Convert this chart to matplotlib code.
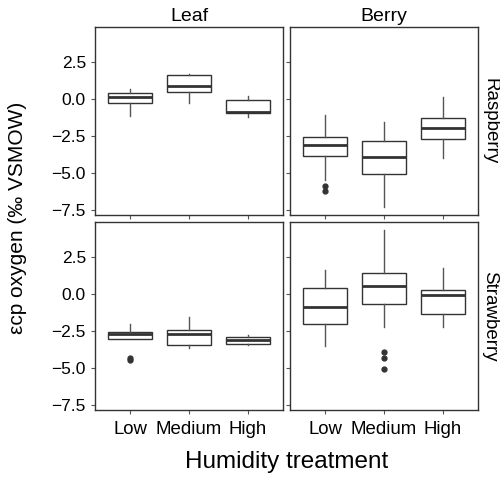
import matplotlib
matplotlib.use("Agg")
import matplotlib.pyplot as plt

plt.rcParams["font.family"] = ["Liberation Sans", "DejaVu Sans"]

treatments = ["Low", "Medium", "High"]
tissues = ["Leaf", "Berry"]
species = ["Raspberry", "Strawberry"]

# box statistics per (tissue, species), one value per treatment (Low, Medium, High)
med = {
    ("Leaf", "Raspberry"): [0.09, 0.86, -0.90],
    ("Berry", "Raspberry"): [-3.13, -3.96, -1.98],
    ("Leaf", "Strawberry"): [-2.72, -2.69, -3.15],
    ("Berry", "Strawberry"): [-0.86, 0.52, -0.09],
}
q1 = {
    ("Leaf", "Raspberry"): [-0.27, 0.45, -0.97],
    ("Berry", "Raspberry"): [-3.87, -5.05, -2.73],
    ("Leaf", "Strawberry"): [-3.06, -3.45, -3.38],
    ("Berry", "Strawberry"): [-2.03, -0.72, -1.38],
}
q3 = {
    ("Leaf", "Raspberry"): [0.41, 1.60, -0.07],
    ("Berry", "Raspberry"): [-2.59, -2.86, -1.28],
    ("Leaf", "Strawberry"): [-2.55, -2.46, -2.93],
    ("Berry", "Strawberry"): [0.36, 1.40, 0.29],
}
whislo = {
    ("Leaf", "Raspberry"): [-1.15, -0.29, -1.24],
    ("Berry", "Raspberry"): [-5.47, -7.32, -3.99],
    ("Leaf", "Strawberry"): [-3.06, -3.66, -3.47],
    ("Berry", "Strawberry"): [-3.50, -2.23, -2.21],
}
whishi = {
    ("Leaf", "Raspberry"): [0.65, 1.69, 0.18],
    ("Berry", "Raspberry"): [-1.08, -1.60, 0.11],
    ("Leaf", "Strawberry"): [-2.03, -1.58, -2.75],
    ("Berry", "Strawberry"): [1.58, 4.33, 1.76],
}
fliers = {
    ("Leaf", "Raspberry"): [[], [], []],
    ("Berry", "Raspberry"): [[-5.86, -6.22], [], []],
    ("Leaf", "Strawberry"): [[-4.32, -4.45], [], []],
    ("Berry", "Strawberry"): [[], [-3.95, -4.36, -5.06], []],
}

yticks = [-7.5, -5.0, -2.5, 0.0, 2.5]

W, H = 500, 483
fig = plt.figure(figsize=(W / 100, H / 100), dpi=100)

col_x = [95, 290]
row_y = [27, 222]
pw, ph = 188, 188
dark = "#333333"

for r, sp in enumerate(species):
    for c, ts in enumerate(tissues):
        ax = fig.add_axes([col_x[c] / W, 1 - (row_y[r] + ph) / H, pw / W, ph / H])
        key = (ts, sp)
        stats = [dict(med=med[key][i], q1=q1[key][i], q3=q3[key][i],
                      whislo=whislo[key][i], whishi=whishi[key][i],
                      fliers=fliers[key][i], label=treatments[i])
                 for i in range(3)]
        ax.bxp(stats, positions=[1, 2, 3], widths=0.75, patch_artist=True,
               showcaps=False,
               boxprops=dict(facecolor="white", edgecolor=dark, linewidth=1.0),
               medianprops=dict(color=dark, linewidth=2.0),
               whiskerprops=dict(color="#555555", linewidth=1.0),
               flierprops=dict(marker="o", markerfacecolor=dark,
                               markeredgecolor=dark, markersize=3.5))
        ax.set_xlim(0.4, 3.6)
        ax.set_ylim(-7.85, 4.85)
        ax.set_yticks(yticks)
        ax.set_xticks([1, 2, 3])
        for s in ax.spines.values():
            s.set_color(dark)
            s.set_linewidth(1.0)
        ax.tick_params(length=3, width=0.8, color="#555555")
        if c == 0:
            ax.set_yticklabels([f"{v:.1f}".replace("-", "\u2212") for v in yticks],
                               fontsize=12.5, color="black")
        else:
            ax.set_yticklabels([])
        if r == 1:
            ax.set_xticklabels(treatments, fontsize=13.4, color="black")
            ax.tick_params(axis="x", pad=5)
        else:
            ax.set_xticklabels([])
        if r == 0:
            ax.set_title(ts, fontsize=14, pad=4)
        if c == 1:
            fig.text(490 / W, 1 - (row_y[r] + ph / 2) / H, sp, rotation=-90,
                     fontsize=13.5, ha="center", va="center")

fig.text(18 / W, 1 - 218 / H, "\u03b5cp oxygen (\u2030 VSMOW)", rotation=90,
         fontsize=15, ha="center", va="center")
fig.text(287 / W, 1 - 462 / H, "Humidity treatment", fontsize=17.5,
         ha="center", va="center")

fig.savefig("out.png", dpi=100)
